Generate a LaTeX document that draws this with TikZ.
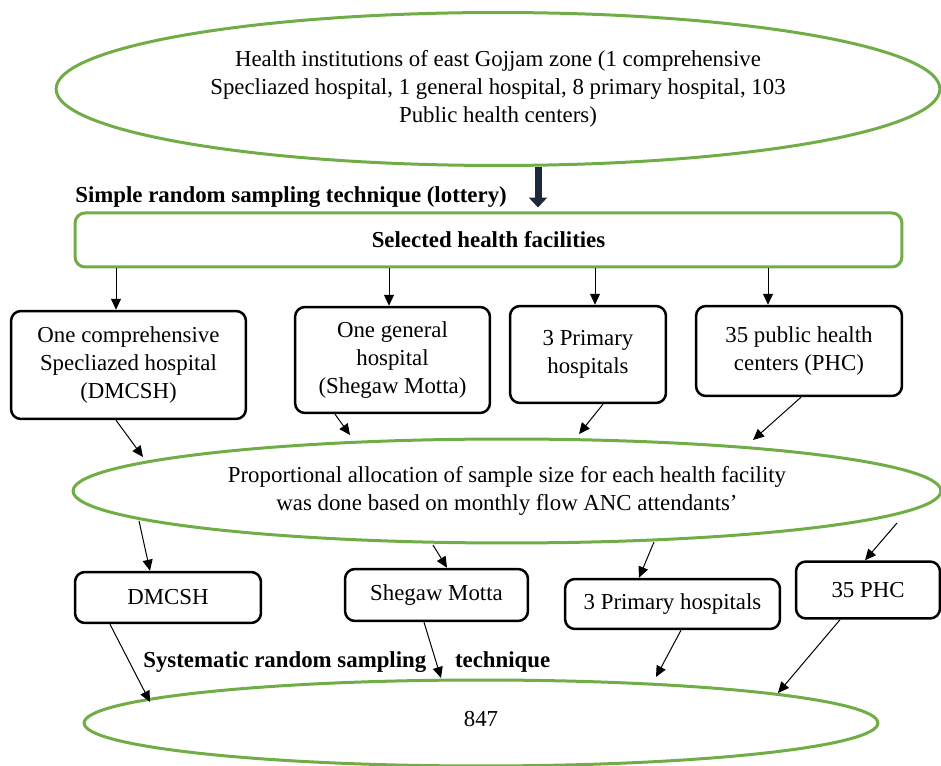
\documentclass[tikz,border=0pt]{standalone}
\usepackage{fontspec}
\setmainfont{Liberation Serif}
\usetikzlibrary{shapes.geometric,arrows.meta,calc}
\definecolor{officegreen}{HTML}{70AD47}
\definecolor{darknavy}{RGB}{30,40,60}
\tikzset{
  greenline/.style={draw=officegreen,line width=0.06cm},
  blackbox/.style={draw=black,line width=0.05cm,rounded corners=0.2cm,align=center,inner sep=0pt},
  flowarrow/.style={line width=0.02cm,-{Triangle[length=0.22cm,width=0.2cm]}},
  bigarrow/.style={draw=darknavy,line width=0.14cm,-{Triangle[length=0.2cm,width=0.36cm]}}
}
\begin{document}
\begin{tikzpicture}[x=0.02cm,y=-0.02cm]
                            \useasboundingbox (0,0) rectangle (941,766);
                            {\fontsize{13}{15.9}\selectfont

                            % Drawing ellipse of health institutions
                            \node [greenline,ellipse,minimum width=17.68cm,minimum height=3.06cm,align=center,inner sep=0pt] (top) at (498,89) {Health institutions of east Gojjam zone (1 comprehensive\\ Specliazed hospital, 1 general hospital, 8 primary hospital, 103\\ Public health centers)};%

                            % Marking text of lottery
                            \node [anchor=west,inner sep=0pt] (lottery) at (75,197) {\textbf{Simple random sampling technique (lottery)}};%

                            % Drawing box of selected facilities
                            \node [greenline,rounded corners=0.2cm,minimum width=16.54cm,minimum height=1.08cm] (sel) at (488.5,240) {\textbf{Selected health facilities}};%

                            % Drawing thick arrow
                            \draw [bigarrow,shorten >=0.08cm] (538,0 |- top.south) -- (538,0 |- sel.north);%

                            % Drawing boxes of facility types
                            \node [blackbox,minimum width=4.7cm,minimum height=2.16cm] (b1) at (128.5,365) {One comprehensive\\ Specliazed hospital\\ (DMCSH)};%
                            \node [blackbox,minimum width=3.9cm,minimum height=2.12cm] (b2) at (392.5,360) {One general\\ hospital\\ (Shegaw Motta)};%
                            \node [blackbox,minimum width=3.12cm,minimum height=1.94cm] (b3) at (588,354.5) {3 Primary\\ hospitals};%
                            \node [blackbox,minimum width=4.12cm,minimum height=1.8cm] (b4) at (799,351) {35 public health\\ centers (PHC)};%

                            % Drawing arrows from selected facilities
                            \draw [flowarrow] (116,0 |- sel.south) -- (116,0 |- b1.north);%
                            \draw [flowarrow] (389,0 |- sel.south) -- (389,0 |- b2.north);%
                            \draw [flowarrow] (595,0 |- sel.south) -- (595,0 |- b3.north);%
                            \draw [flowarrow] (768,0 |- sel.south) -- (768,0 |- b4.north);%

                            % Drawing ellipse of allocation
                            \node [greenline,ellipse,minimum width=17.36cm,minimum height=2.08cm,align=center,inner sep=0pt] (mid) at (507,491) {Proportional allocation of sample size for each health facility\\ was done based on monthly flow ANC attendants'};%

                            % Drawing arrows to allocation
                            \draw [flowarrow] (116,0 |- b1.south) -- ($(mid.center)+(-364,-34)$);%
                            \draw [flowarrow] (335,0 |- b2.south) -- ($(mid.center)+(-157,-56)$);%
                            \draw [flowarrow] (603,0 |- b3.south) -- ($(mid.center)+(72,-57)$);%
                            \draw [flowarrow] (801,0 |- b4.south) -- ($(mid.center)+(246,-51)$);%

                            % Drawing boxes of sample size
                            \node [blackbox,minimum width=3.72cm,minimum height=1.02cm] (dm) at (168,597.5) {DMCSH};%
                            \node [blackbox,minimum width=3.66cm,minimum height=1.04cm] (sm) at (436.5,595) {Shegaw Motta};%
                            \node [blackbox,minimum width=4.3cm,minimum height=1.0cm] (ph) at (672.5,604) {3 Primary hospitals};%
                            \node [blackbox,minimum width=2.88cm,minimum height=1.14cm] (pc) at (868,590) {35 PHC};%

                            % Drawing arrows from allocation
                            \draw [flowarrow] ($(mid.center)+(-368,30)$) -- (150,0 |- dm.north);%
                            \draw [flowarrow] ($(mid.center)+(-74,54)$) -- (447,0 |- sm.north);%
                            \draw [flowarrow] ($(mid.center)+(147,51)$) -- (639,0 |- ph.north);%
                            \draw [flowarrow] ($(mid.center)+(390,32)$) -- (865,0 |- pc.north);%

                            % Marking text of systematic sampling
                            \node [anchor=west,inner sep=0pt] (systematic) at (143,662) {\textbf{Systematic random sampling\hspace{0.46cm} technique}};%

                            % Drawing ellipse of total
                            \node [greenline,ellipse,minimum width=15.88cm,minimum height=1.72cm,inner sep=0pt] (bot) at (481,723) {\raisebox{0.16cm}{847}};%

                            % Drawing arrows to total
                            \draw [flowarrow] (110,0 |- dm.south) -- ($(bot.center)+(-331,-21)$);%
                            \draw [flowarrow] (424,0 |- sm.south) -- ($(bot.center)+(-40,-45)$);%
                            \draw [flowarrow] (681,0 |- ph.south) -- ($(bot.center)+(175,-46)$);%
                            \draw [flowarrow] (840,0 |- pc.south) -- ($(bot.center)+(297,-30)$);%
                            }
\end{tikzpicture}
\end{document}
